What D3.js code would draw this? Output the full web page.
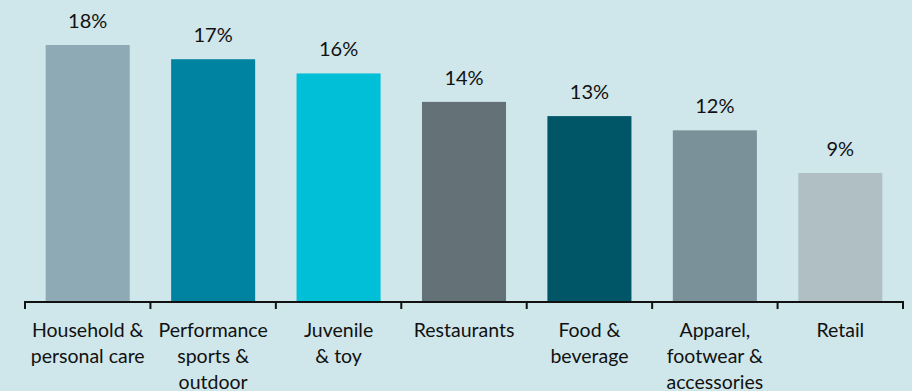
<!DOCTYPE html>
<html>
<head>
<meta charset="utf-8">
<script src="https://cdn.jsdelivr.net/npm/d3@7"></script>
<style>
  html, body { margin: 0; padding: 0; background: #cfe6ea; }
  svg { display: block; }
  text { font-family: Lato, "Open Sans", sans-serif; fill: #111; }
</style>
</head>
<body>
<svg id="chart" width="912" height="391"></svg>
<script>
// Share of total by category
const categories = [
  ["Household &", "personal care"],
  ["Performance", "sports &", "outdoor"],
  ["Juvenile", "& toy"],
  ["Restaurants"],
  ["Food &", "beverage"],
  ["Apparel,", "footwear &", "accessories"],
  ["Retail"]
];
const values = [18, 17, 16, 14, 13, 12, 9];
const colors = ["#8eabb5", "#0083a1", "#00bfd6", "#647176", "#005566", "#7a9199", "#b0bfc4"];

const svg = d3.select("#chart");
const baseline = 301;

const x = d3.scaleBand()
  .domain(d3.range(values.length))
  .range([25, 903])
  .paddingInner(0.33)
  .paddingOuter(0.165);

const y = d3.scaleLinear().domain([0, 18]).range([baseline, 45]);

// Bars
svg.selectAll("rect.bar")
  .data(values)
  .join("rect")
  .attr("class", "bar")
  .attr("x", (d, i) => x(i))
  .attr("y", d => y(d))
  .attr("width", x.bandwidth())
  .attr("height", d => baseline - y(d))
  .attr("fill", (d, i) => colors[i]);

// Value labels
svg.selectAll("text.val")
  .data(values)
  .join("text")
  .attr("class", "val")
  .attr("x", (d, i) => x(i) + x.bandwidth() / 2)
  .attr("y", d => y(d) - 17)
  .attr("text-anchor", "middle")
  .style("font-size", "20px")
  .text(d => d + "%");

// Category axis: baseline with ticks between bands
const edges = d3.range(values.length + 1).map(i => 25 + i * (878 / values.length));
svg.append("line")
  .attr("x1", 25).attr("x2", 903)
  .attr("y1", baseline + 1).attr("y2", baseline + 1)
  .attr("stroke", "#111").attr("stroke-width", 2);
svg.selectAll("line.tick")
  .data(edges)
  .join("line")
  .attr("class", "tick")
  .attr("x1", d => d).attr("x2", d => d)
  .attr("y1", baseline).attr("y2", baseline + 8)
  .attr("stroke", "#111").attr("stroke-width", 2);

// Category labels
const lab = svg.selectAll("text.cat")
  .data(categories)
  .join("text")
  .attr("class", "cat")
  .attr("text-anchor", "middle")
  .style("font-size", "19.5px");
lab.each(function (lines, i) {
  const cx = edges[i] + (edges[i + 1] - edges[i]) / 2;
  d3.select(this).selectAll("tspan")
    .data(lines)
    .join("tspan")
    .attr("x", cx)
    .attr("y", (d, j) => 337 + j * 26)
    .text(d => d);
});
</script>
</body>
</html>
